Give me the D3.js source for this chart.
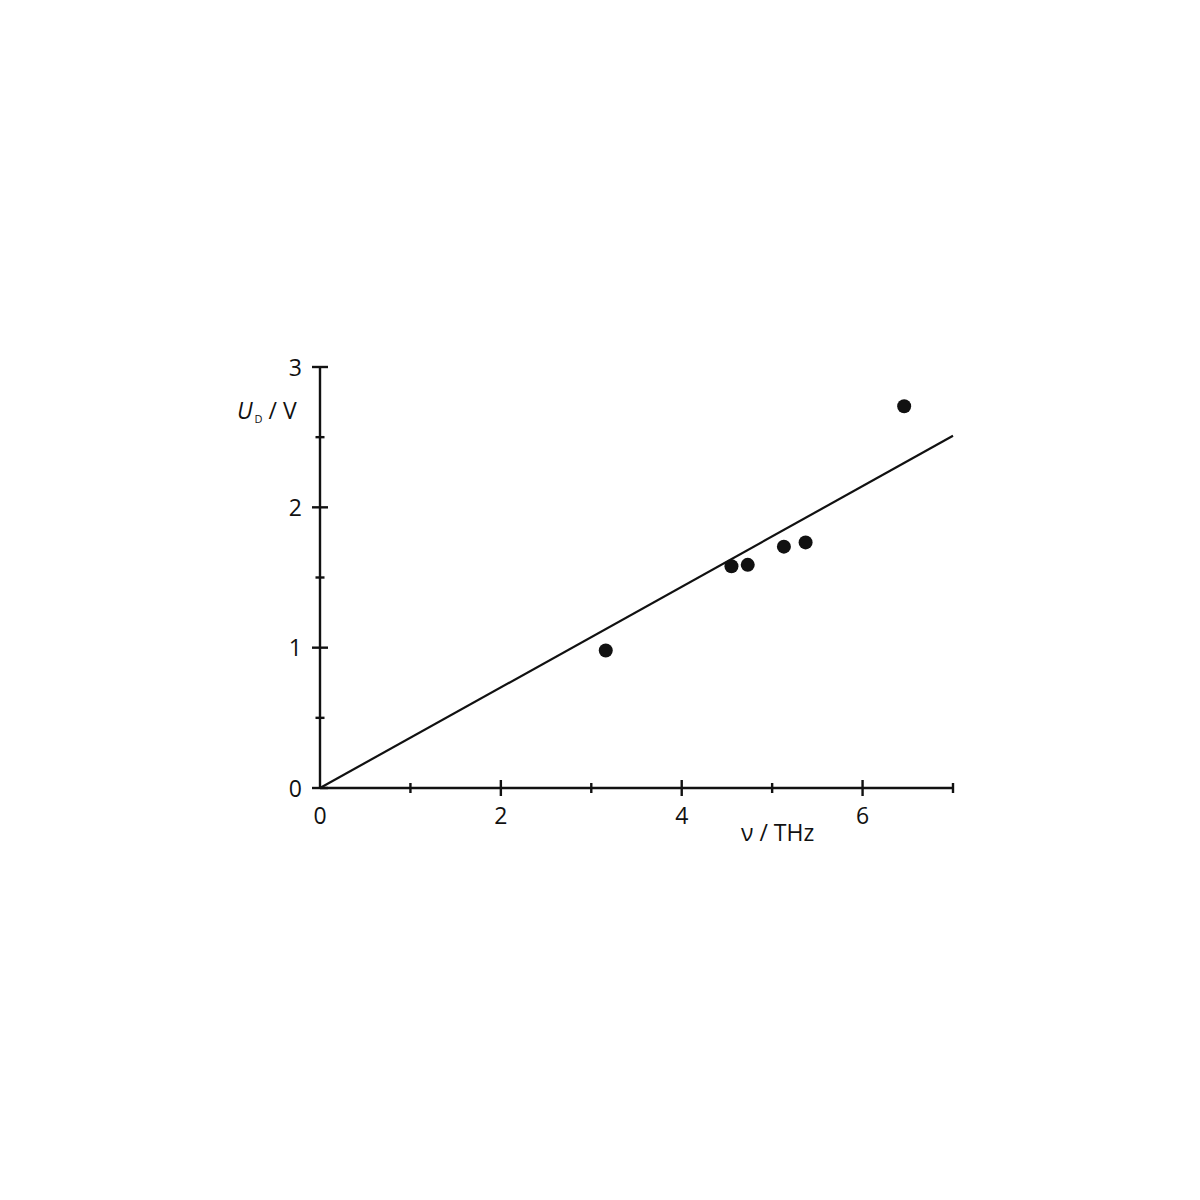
<!DOCTYPE html>
<html>
<head>
<meta charset="utf-8">
<script src="https://cdn.jsdelivr.net/npm/d3@7"></script>
<style>
  body { margin: 0; background: #fff; }
  text { font-family: "Open Sans", "Noto Sans", sans-serif; fill: #111; }
</style>
</head>
<body>
<svg id="chart" width="1200" height="1200"></svg>
<script>
// measured frequencies (THz) and stopping voltages (V)
var freq = [3.16, 4.55, 4.73, 5.13, 5.37, 6.46];
var voltage = [0.98, 1.58, 1.59, 1.72, 1.75, 2.72];
// fitted line through the origin
var fitX = [0, 7];
var fitY = [0, 2.51];
var xTickLabels = [0, 2, 4, 6];
var yTickLabels = [0, 1, 2, 3];

var svg = d3.select("#chart");

var x = d3.scaleLinear().domain([0, 7]).range([320, 953]);
var y = d3.scaleLinear().domain([0, 3]).range([788, 367]);

var ink = "#111";

// axis lines
var ax = svg.append("g").attr("stroke", ink).attr("stroke-width", 2.4).attr("fill", "none");
ax.append("line").attr("x1", x(0)).attr("x2", x(7)).attr("y1", y(0)).attr("y2", y(0));
ax.append("line").attr("x1", x(0)).attr("x2", x(0)).attr("y1", y(0)).attr("y2", y(3));

// x ticks: major at even numbers, minor at odd numbers
d3.range(1, 8).forEach(function(v) {
	var h = v % 2 === 0 ? 8 : 5;
	ax.append("line").attr("x1", x(v)).attr("x2", x(v)).attr("y1", y(0) - h).attr("y2", y(0) + h);
});
// y ticks: major at integers, minor at halves
d3.range(0, 3.01, 0.5).forEach(function(v) {
	var h = v % 1 === 0 ? 8 : 4.5;
	ax.append("line").attr("x1", x(0) - h).attr("x2", x(0) + h).attr("y1", y(v)).attr("y2", y(v));
});

// tick labels
svg.selectAll(".xl").data(xTickLabels).enter().append("text")
	.attr("x", function(d) { return x(d); })
	.attr("y", y(0) + 36)
	.attr("text-anchor", "middle")
	.attr("font-size", 23)
	.text(function(d) { return d; });

svg.selectAll(".yl").data(yTickLabels).enter().append("text")
	.attr("x", 302)
	.attr("y", function(d) { return y(d) + 8.5; })
	.attr("text-anchor", "end")
	.attr("font-size", 23)
	.text(function(d) { return d; });

// axis titles
var yt = svg.append("text").attr("x", 237).attr("y", 419).attr("font-size", 23);
yt.append("tspan").attr("font-style", "italic").text("U");
yt.append("tspan").attr("font-size", 11).attr("dx", 2).attr("dy", 4).text("D");
yt.append("tspan").attr("dx", 6).attr("dy", -4).text("/ V");

svg.append("text").attr("x", 741).attr("y", 841).attr("font-size", 23).text("ν / THz");

// fitted line
var line = d3.line().x(function(d) { return x(d[0]); }).y(function(d) { return y(d[1]); });
svg.append("path")
	.datum(d3.zip(fitX, fitY))
	.attr("d", line)
	.attr("fill", "none")
	.attr("stroke", ink)
	.attr("stroke-width", 2.2);

// data points
svg.selectAll(".pt").data(d3.zip(freq, voltage)).enter().append("circle")
	.attr("cx", function(d) { return x(d[0]); })
	.attr("cy", function(d) { return y(d[1]); })
	.attr("r", 7)
	.attr("fill", ink);
</script>
</body>
</html>
